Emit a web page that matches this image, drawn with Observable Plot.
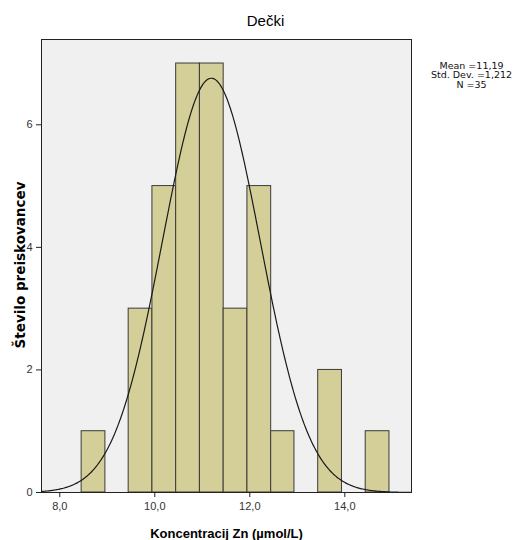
<!DOCTYPE html>
<html>
<head>
<meta charset="utf-8">
<script src="https://cdn.jsdelivr.net/npm/d3@7"></script>
<script src="https://cdn.jsdelivr.net/npm/@observablehq/plot@0.6"></script>
<style>
  body { margin: 0; background: #fff; }
  svg { font-family: "Liberation Sans", Arial, sans-serif; }
</style>
</head>
<body>
<div id="chart"></div>
<script>
// Histogram bin edges (µmol/L) and counts
const binEdges = [8.46, 8.96, 9.45, 9.95, 10.45, 10.95, 11.45, 11.95, 12.45, 12.94, 13.44, 13.94, 14.44, 14.94];
const binCounts = [1, 0, 3, 5, 7, 7, 3, 5, 1, 0, 2, 0, 1];
const xTicks = [8, 10, 12, 14];
const yTicks = [0, 2, 4, 6];
const statsLines = ["Mean =11,19", "Std. Dev. =1,212", "N =35"];
const titleText = "Dečki";
const xLabel = "Koncentracij Zn (µmol/L)";
const yLabel = "Število preiskovancev";
// Fitted normal curve as drawn (centre, effective spread, peak height)
const curveMean = 11.19;
const curveSpread = 1.03;
const curvePeak = 6.76;

const xDomain = [7.615, 15.404];
const yDomain = [0, 7.392];

const bars = binCounts
  .map((c, i) => ({x1: binEdges[i], x2: binEdges[i + 1], count: c}))
  .filter(d => d.count > 0);

const curve = d3.range(xDomain[0], xDomain[1] + 0.001, 0.02).map(x => ({
  x, y: curvePeak * Math.exp(-((x - curveMean) ** 2) / (2 * curveSpread ** 2))
}));

const fmt = d => d.toFixed(1).replace(".", ",");

const statMarks = statsLines.map((s, i) =>
  Plot.text([s], {frameAnchor: "top-right", textAnchor: "middle", lineAnchor: "middle", dx: 60, dy: 26 + i * 9.5, text: d => d, fontSize: 9.5, fontFamily: "DejaVu Sans", fill: "#111"})
);

const chart = Plot.plot({
  width: 514,
  height: 540,
  marginLeft: 41,
  marginRight: 103,
  marginTop: 39,
  marginBottom: 48,
  style: {background: "#fff", fontFamily: "'Liberation Sans', Arial, sans-serif"},
  x: {domain: xDomain, ticks: xTicks, tickFormat: fmt, label: null},
  y: {domain: yDomain, ticks: yTicks, tickFormat: d => String(d), label: null},
  marks: [
    Plot.frame({fill: "#f0f0f0", stroke: null}),
    Plot.rectY(bars, {x1: "x1", x2: "x2", y: "count", fill: "#d4cf98", stroke: "#3a3a3a", strokeWidth: 1, inset: 0}),
    Plot.line(curve, {x: "x", y: "y", stroke: "#1a1a1a", strokeWidth: 1.2, clip: true}),
    Plot.frame({stroke: "#222", strokeWidth: 1}),
    Plot.axisX({ticks: xTicks, tickFormat: fmt, tickSize: 5, tickPadding: 5, fontSize: 11, color: "#333", stroke: "#222"}),
    Plot.axisY({ticks: yTicks, tickSize: 5, tickPadding: 4, fontSize: 11, color: "#333", stroke: "#222"}),
    Plot.text([titleText], {frameAnchor: "top", lineAnchor: "middle", dx: 39, dy: -18, text: d => d, fontSize: 15, fill: "#000"}),
    Plot.text([xLabel], {frameAnchor: "bottom", lineAnchor: "middle", dx: 0, dy: 41, text: d => d, fontSize: 13, fontWeight: "bold", fill: "#000"}),
    Plot.text([yLabel], {frameAnchor: "left", textAnchor: "middle", dx: -21, dy: -1, rotate: -90, text: d => d, fontSize: 13.5, fontWeight: "bold", fontFamily: "DejaVu Sans", fill: "#000"}),
    ...statMarks
  ]
});
document.getElementById("chart").appendChild(chart);
</script>
</body>
</html>
